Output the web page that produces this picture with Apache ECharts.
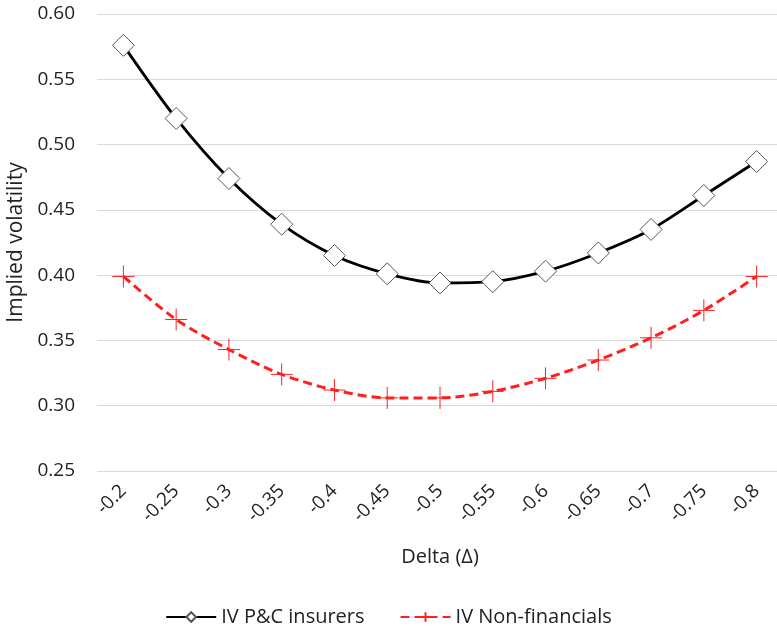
<!DOCTYPE html>
<html>
<head>
	<meta charset="utf-8">
	<title>echarts</title>
	<script type="text/javascript" src="https://cdn.jsdelivr.net/npm/echarts@6/dist/echarts.min.js"></script>
	<style>body{margin:0;background:#fff;}</style>
</head>
<body>
	<div id="mychar" style="width: 777px;height:632px;"></div>

	<script type="text/javascript">
		var deltas = ['-0.2', '-0.25', '-0.3', '-0.35', '-0.4', '-0.45', '-0.5', '-0.55', '-0.6', '-0.65', '-0.7', '-0.75', '-0.8'];
		var ivInsurers = [0.576, 0.520, 0.474, 0.439, 0.415, 0.401, 0.394, 0.395, 0.403, 0.417, 0.435, 0.461, 0.487];
		var ivNonFin = [0.399, 0.366, 0.343, 0.324, 0.312, 0.306, 0.306, 0.311, 0.321, 0.335, 0.352, 0.373, 0.399];

		var font = 'Open Sans';
		var mychar = echarts.init(document.getElementById("mychar"));
		var option = {
			textStyle: {fontFamily: font},
			animation: false,
			grid: {left: 97, top: 14, width: 686, height: 457, outerBoundsMode: 'none', containLabel: false},
			legend: {
				bottom: 0,
				left: 'center',
				itemWidth: 50,
				itemHeight: 12,
				itemGap: 35,
				textStyle: {fontFamily: font, fontSize: 20, color: '#222'},
				data: ['IV P&C insurers', 'IV Non-financials']
			},
			xAxis: {
				type: 'category',
				data: deltas,
				name: 'Delta (Δ)',
				nameLocation: 'middle',
				nameGap: 76,
				nameTextStyle: {fontFamily: font, fontSize: 20, color: '#222'},
				axisLine: {show: false},
				axisTick: {show: false},
				axisLabel: {rotate: 45, margin: 17, fontFamily: font, fontSize: 19, color: '#222'}
			},
			yAxis: {
				type: 'value',
				min: 0.25,
				max: 0.60,
				interval: 0.05,
				name: 'Implied volatility',
				nameLocation: 'middle',
				nameGap: 70,
				nameTextStyle: {fontFamily: font, fontSize: 21, color: '#222'},
				axisLine: {show: false},
				axisTick: {show: false},
				splitLine: {lineStyle: {color: '#d9d9d9', width: 1}},
				axisLabel: {margin: 22, fontFamily: font, fontSize: 19, color: '#222',
					formatter: function (v) { return v.toFixed(2); }}
			},
			series: [
				{
					name: 'IV P&C insurers',
					type: 'line',
					smooth: 0.3,
					data: ivInsurers,
					symbol: 'diamond',
					symbolSize: 22,
					lineStyle: {color: '#000', width: 2.8},
					itemStyle: {color: '#fff', borderColor: '#555', borderWidth: 1},
					z: 3
				},
				{
					name: 'IV Non-financials',
					type: 'line',
					smooth: 0.3,
					data: ivNonFin,
					symbol: 'path://M10,0L10,20M0,10L20,10',
					symbolSize: 22,
					lineStyle: {color: '#ff1f1f', width: 3, type: [9, 5]},
					itemStyle: {color: 'none', borderColor: '#ff2020', borderWidth: 1},
					z: 2
				}
			]
		};

		mychar.setOption(option);
	</script>
</body>
</html>
